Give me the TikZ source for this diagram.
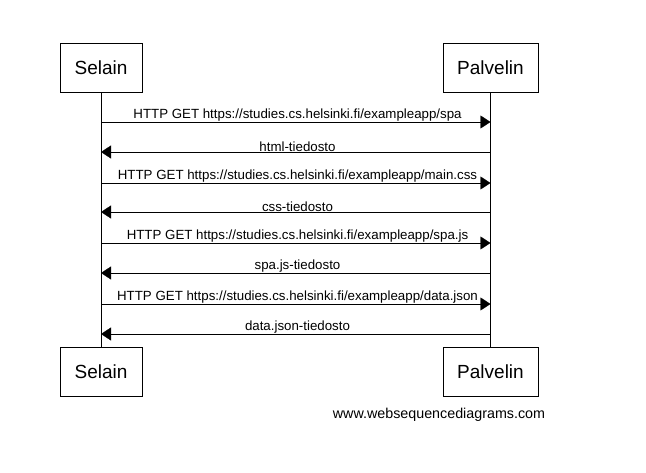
\documentclass[tikz,border=0pt]{standalone}
\usepackage{fontspec}
\setmainfont{Liberation Sans}
\usetikzlibrary{arrows.meta}

\begin{document}
\begin{tikzpicture}[x=1pt,y=-1pt,
        actor/.style={draw,thick,minimum height=49pt,font=\fontsize{19}{22}\selectfont,inner sep=0pt},
        msg/.style={-{Triangle[length=10pt,width=13pt]},thin},
        msglabel/.style={font=\fontsize{13.3}{16}\selectfont,inner sep=0pt,above=0.5pt}]
    \useasboundingbox (0,0) rectangle (646,473);
    \node[actor,minimum width=82pt] (selain) at (101,67.5) {Selain};
    \node[actor,minimum width=95pt] (palvelin) at (490.5,67.5) {Palvelin};
    \node[actor,minimum width=82pt] (selainB) at (101,371.5) {Selain};
    \node[actor,minimum width=95pt] (palvelinB) at (490.5,371.5) {Palvelin};
    \draw (selain.south) -- (selainB.north);
    \draw (palvelin.south) -- (palvelinB.north);
    % viestit
    \foreach \y/\a/\b/\txt [count=\i] in {
            122/selain/palvelin/{HTTP GET https://studies.cs.helsinki.fi/exampleapp/spa},
            152/palvelin/selain/{html-tiedosto},
            183/selain/palvelin/{HTTP GET https://studies.cs.helsinki.fi/exampleapp/main.css},
            212/palvelin/selain/{css-tiedosto},
            243/selain/palvelin/{HTTP GET https://studies.cs.helsinki.fi/exampleapp/spa.js},
            273/palvelin/selain/{spa.js-tiedosto},
            304/selain/palvelin/{HTTP GET https://studies.cs.helsinki.fi/exampleapp/data.json},
            334/palvelin/selain/{data.json-tiedosto}} {
        \coordinate (from\i) at (\a.south |- 0,\y);
        \coordinate (to\i) at (\b.south |- 0,\y);
        \draw[msg] (from\i) -- (to\i);
        \node[msglabel] (label\i) at (297.5,\y) {\txt};
    }
    \node[font=\fontsize{14.3}{17}\selectfont,inner sep=0pt] (wsd) at (439,415) {www.websequencediagrams.com};
\end{tikzpicture}
\end{document}
